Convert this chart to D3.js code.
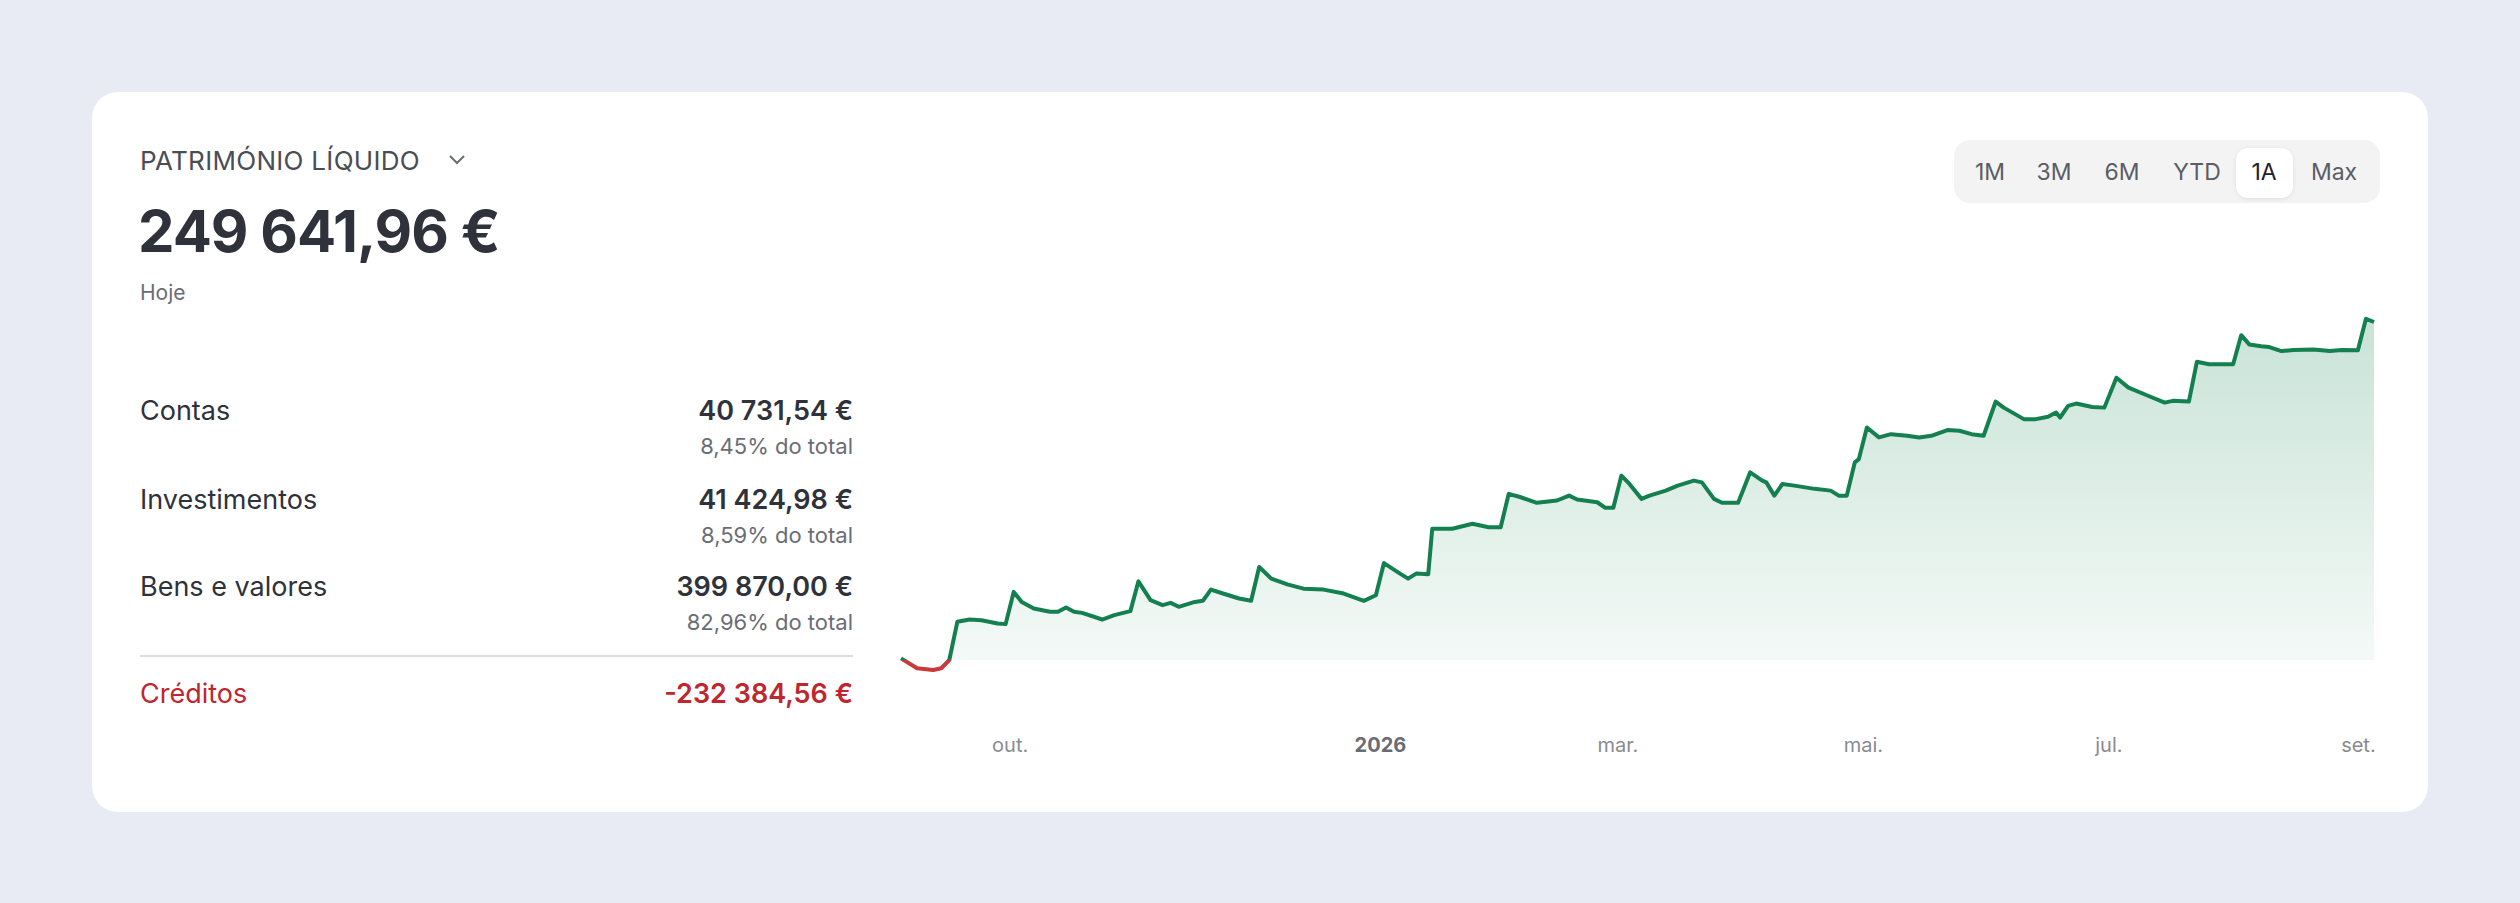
<!DOCTYPE html>
<html><head><meta charset="utf-8">
<script src="https://cdn.jsdelivr.net/npm/d3@7"></script>
<style>body{margin:0;background:#e8ebf3;}svg{display:block;font-family:Inter,"Noto Sans",sans-serif;}</style>
</head><body>
<svg id="c" width="2520" height="903"></svg>
<script>
const startDate = "2025-09-04";
const days = [0,4,8,10,12,14,17,20,24,26,28,30,33,37,39,41,43,45,50,53,57,59,62,65,67,69,73,75,77,80,84,87,89,92,96,100,105,110,115,118,120,124,126,128,131,132,137,142,146,149,151,154,158,163,166,168,173,175,177,179,181,184,186,190,193,197,199,202,204,208,211,214,215,217,219,222,227,231,233,235,237,238,240,243,246,250,253,256,260,263,266,269,272,274,279,282,285,287,288,290,292,296,299,302,305,310,314,316,320,322,325,329,331,333,335,338,340,343,346,351,355,358,362,364,366];
const values = [1.2,-6.1,-7.4,-6.1,0,28.2,29.9,29.4,27.0,26.5,50.3,42.9,38.0,35.6,35.6,38.8,35.6,34.8,29.9,33.1,36.1,58.1,44.2,40.5,42.2,39.3,42.9,43.7,52.0,49.1,45.4,43.7,68.7,60.1,55.9,52.7,52.0,49.1,43.7,47.8,71.6,63.8,60.1,63.8,63.3,96.9,96.9,100.6,98.1,98.1,122.7,120.2,116.1,117.8,121.4,118.5,116.5,112.4,112.4,136.2,130.0,119.0,121.4,125.1,128.8,132.5,131.2,119.0,116.1,116.1,138.6,132.5,131.2,121.4,130.0,128.8,126.4,125.1,121.4,121.4,146.0,148.4,171.7,164.4,166.8,165.6,164.4,165.6,169.8,169.3,166.8,165.6,190.9,186.4,177.9,177.9,179.6,182.8,179.1,187.7,189.4,186.9,186.4,208.5,201.2,195.0,190.1,191.4,190.9,220.3,218.4,218.4,218.4,239.9,233.1,231.8,231.1,228.2,228.9,229.4,228.2,228.9,228.7,252.0,249.64];
const tickDates = ["2025-10-01","2026-01-01","2026-03-01","2026-05-01","2026-07-01","2026-09-01"];
const tickLabels = ["out.","2026","mar.","mai.","jul.","set."];
const rowLabels = ["Contas","Investimentos","Bens e valores"];
const rowValues = ["40 731,54 €","41 424,98 €","399 870,00 €"];
const rowShares = ["8,45% do total","8,59% do total","82,96% do total"];
const creditLabel = "Créditos", creditValue = "-232 384,56 €";
const ranges = ["1M","3M","6M","YTD","1A","Max"];

const svg = d3.select("#c");
svg.append("rect").attr("x",92).attr("y",92).attr("width",2336).attr("height",720).attr("rx",26).attr("fill","#fff");

svg.append("text").attr("x",140).attr("y",170).attr("font-size",26).attr("fill","#4b4d55").attr("letter-spacing",0.3).text("PATRIMÓNIO LÍQUIDO");
svg.append("path").attr("d","M450,156 l7,7 l7,-7").attr("fill","none").attr("stroke","#6b6d75").attr("stroke-width",2);
svg.append("text").attr("x",138).attr("y",252).attr("font-size",58).attr("font-weight",700).attr("fill","#2f323a").attr("letter-spacing",-1).text("249 641,96 €");
svg.append("text").attr("x",140).attr("y",300).attr("font-size",21).attr("fill","#6b6d75").text("Hoje");

const rowY = [411,500,587];
rowLabels.forEach((l,i)=>{
  svg.append("text").attr("x",140).attr("y",rowY[i]+9).attr("font-size",27).attr("fill","#2f323a").text(l);
  svg.append("text").attr("x",853).attr("y",rowY[i]+9).attr("text-anchor","end").attr("font-size",27).attr("font-weight",600).attr("fill","#2f323a").text(rowValues[i]);
  svg.append("text").attr("x",853).attr("y",rowY[i]+43).attr("text-anchor","end").attr("font-size",22).attr("fill","#6b6d75").text(rowShares[i]);
});
svg.append("line").attr("x1",140).attr("x2",853).attr("y1",656).attr("y2",656).attr("stroke","#dddde0").attr("stroke-width",2);
svg.append("text").attr("x",140).attr("y",703).attr("font-size",27).attr("fill","#c0262d").text(creditLabel);
svg.append("text").attr("x",853).attr("y",703).attr("text-anchor","end").attr("font-size",27).attr("font-weight",600).attr("fill","#c0262d").text(creditValue);

svg.append("rect").attr("x",1954).attr("y",140).attr("width",426).attr("height",63).attr("rx",16).attr("fill","#f3f3f4");
const bx = [1990,2054,2122,2197,2264,2334];
svg.append("rect").attr("x",2236).attr("y",148).attr("width",57).attr("height",50).attr("rx",12).attr("fill","#fff").attr("filter","drop-shadow(0 1px 2px rgba(0,0,0,0.08))");
ranges.forEach((r,i)=>svg.append("text").attr("x",bx[i]).attr("y",180).attr("text-anchor","middle").attr("font-size",23).attr("fill",r==="1A"?"#1f2128":"#5b5d65").text(r));

const parse = d3.utcParse("%Y-%m-%d");
const t0 = parse(startDate);
const data = days.map((d,i)=>({date:d3.utcDay.offset(t0,d), v:values[i]*1000}));
const x = d3.scaleUtc().domain([t0, d3.utcDay.offset(t0,366)]).range([901,2374]);
const y = d3.scaleLinear().domain([0,249642]).range([660,322]);
const base = y(0);
const defs = svg.append("defs");
const g = defs.append("linearGradient").attr("id","gf").attr("gradientUnits","userSpaceOnUse")
  .attr("x1",0).attr("x2",0).attr("y1",y(252000)).attr("y2",base);
g.append("stop").attr("offset","0%").attr("stop-color","#1c8a5a").attr("stop-opacity",0.24);
g.append("stop").attr("offset","100%").attr("stop-color","#1c8a5a").attr("stop-opacity",0.05);
defs.append("clipPath").attr("id","pos").append("rect").attr("x",0).attr("y",0).attr("width",2520).attr("height",base);
defs.append("clipPath").attr("id","neg").append("rect").attr("x",0).attr("y",base).attr("width",2520).attr("height",300);
const area = d3.area().x(d=>x(d.date)).y0(base).y1(d=>y(Math.max(0,d.v)));
const line = d3.line().x(d=>x(d.date)).y(d=>y(d.v));
svg.append("path").datum(data).attr("d",area).attr("fill","url(#gf)");
svg.append("path").datum(data).attr("d",line).attr("fill","none").attr("stroke","#14804f").attr("stroke-width",4).attr("stroke-linejoin","round").attr("clip-path","url(#pos)");
svg.append("path").datum(data).attr("d",line).attr("fill","none").attr("stroke","#c83a3a").attr("stroke-width",4).attr("stroke-linejoin","round").attr("clip-path","url(#neg)");

const axis = d3.axisBottom(x).tickValues(tickDates.map(parse)).tickFormat((d,i)=>tickLabels[i]).tickSize(0);
const ag = svg.append("g").attr("transform","translate(0,735)").call(axis);
ag.select(".domain").remove();
ag.selectAll("text").attr("font-size",20).attr("font-family","Inter,sans-serif").attr("fill","#8a8b90")
  .attr("font-weight",(d,i)=>tickLabels[i]==="2026"?700:400)
  .filter((d,i)=>tickLabels[i]==="2026").attr("fill","#6b6c72");
</script>
</body></html>
